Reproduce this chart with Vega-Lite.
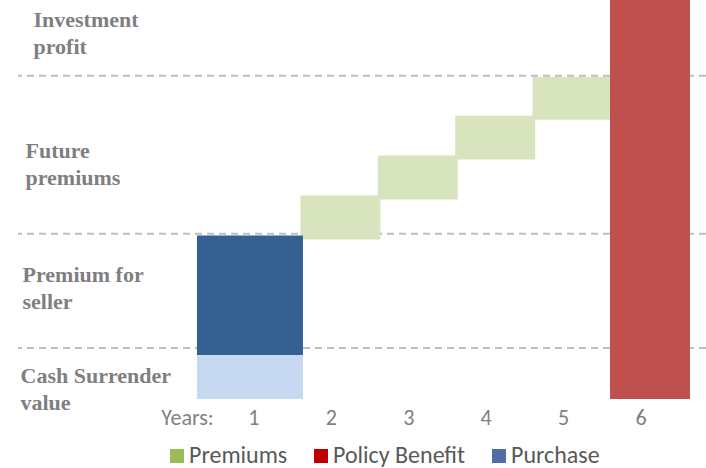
{
  "$schema": "https://vega.github.io/schema/vega-lite/v6.json",
  "width": 688,
  "height": 399,
  "autosize": {"type": "none"},
  "padding": {"left": 18, "top": 0, "right": 0, "bottom": 69},
  "background": "white",
  "config": {"view": {"stroke": null}, "font": "Carlito, Lato, sans-serif"},
  "datasets": {
    "bars": [
      {"year": "1", "part": "Cash Surrender value", "low": 0, "high": 11},
      {"year": "1", "part": "Purchase", "low": 11, "high": 41},
      {"year": "2", "part": "Premiums", "low": 40, "high": 51},
      {"year": "3", "part": "Premiums", "low": 50, "high": 61},
      {"year": "4", "part": "Premiums", "low": 60, "high": 71},
      {"year": "5", "part": "Premiums", "low": 70, "high": 80.7},
      {"year": "6", "part": "Policy Benefit", "low": 0, "high": 100}
    ],
    "levels": [
      {"value": 12.8},
      {"value": 41.4},
      {"value": 81}
    ]
  },
  "layer": [
    {
      "data": {"name": "levels"},
      "mark": {"type": "rule", "color": "#BFBFBF", "strokeWidth": 2, "strokeDash": [7, 5]},
      "encoding": {
        "y": {
          "field": "value",
          "type": "quantitative",
          "scale": {"domain": [0, 100], "nice": false, "zero": true},
          "axis": {
            "orient": "left",
            "values": [95.2, 62.4, 31.3, 5.8],
            "labelExpr": "datum.value == 95.2 ? ['Investment','profit'] : datum.value == 62.4 ? ['Future','premiums'] : datum.value == 31.3 ? ['Premium for','seller'] : ['Cash Surrender','value']",
            "labelFont": "Liberation Serif",
            "labelFontWeight": "bold",
            "labelFontSize": 22,
            "labelColor": "#7F7F7F",
            "labelAlign": "left",
            "labelBaseline": "middle",
            "labelLineHeight": 27,
            "labelPadding": {
              "condition": [
                {"test": "datum.value == 95.2", "value": -15},
                {"test": "datum.value == 62.4", "value": -7},
                {"test": "datum.value == 31.3", "value": -4}
              ],
              "value": -2
            },
            "labelOverlap": false,
            "labelBound": false,
            "labelFlush": false,
            "ticks": false,
            "tickSize": 0,
            "domain": false,
            "grid": false,
            "title": null
          }
        }
      }
    },
    {
      "data": {"name": "bars"},
      "transform": [{"filter": "datum.year != '1'"}],
      "mark": {"type": "bar", "width": 80, "xOffset": 9},
      "encoding": {
        "x": {
          "field": "year",
          "type": "nominal",
          "scale": {"domain": ["Years:", "1", "2", "3", "4", "5", "6"], "paddingInner": 0, "paddingOuter": 0.944, "align": 0.82},
          "axis": {
            "orient": "bottom",
            "labelAngle": 0,
            "labelFontSize": 22,
            "labelColor": "#7F7F7F",
            "labelPadding": 8,
            "labelOffset": {"condition": {"test": "datum.value === 'Years:'", "value": 11}, "value": 0},
            "ticks": false,
            "tickSize": 0,
            "domain": false,
            "grid": false,
            "title": null
          }
        },
        "y": {"field": "high", "type": "quantitative"},
        "y2": {"field": "low"},
        "fill": {
          "field": "part",
          "type": "nominal",
          "scale": {"domain": ["Premiums", "Policy Benefit", "Purchase", "Cash Surrender value"], "range": ["#D7E4BD", "#C0504D", "#376092", "#C6D9F1"]},
          "legend": null
        }
      }
    },
    {
      "data": {"name": "bars"},
      "transform": [{"filter": "datum.year == '1'"}],
      "mark": {"type": "bar", "width": 106, "xOffset": -4},
      "encoding": {
        "x": {"field": "year", "type": "nominal"},
        "y": {"field": "high", "type": "quantitative"},
        "y2": {"field": "low"},
        "fill": {"field": "part", "type": "nominal", "legend": null}
      }
    },
    {
      "data": {"name": "bars"},
      "transform": [{"filter": "datum.part != 'Cash Surrender value'"}],
      "mark": {"type": "point", "shape": "square", "filled": true, "size": 0},
      "encoding": {
        "x": {"field": "year", "type": "nominal"},
        "y": {"field": "high", "type": "quantitative"},
        "color": {
          "field": "part",
          "type": "nominal",
          "scale": {"domain": ["Premiums", "Policy Benefit", "Purchase"], "range": ["#9BBB59", "#C00000", "#4F6FA6"]},
          "legend": {
            "orient": "none",
            "legendX": 147,
            "legendY": 444,
            "direction": "horizontal",
            "title": null,
            "symbolType": "square",
            "symbolSize": 196,
            "symbolStrokeWidth": 0,
            "symbolOpacity": 1,
            "labelFontSize": 24,
            "labelColor": "#595959",
            "labelOffset": 0,
            "columnPadding": 21,
            "padding": 0
          }
        }
      }
    }
  ]
}
